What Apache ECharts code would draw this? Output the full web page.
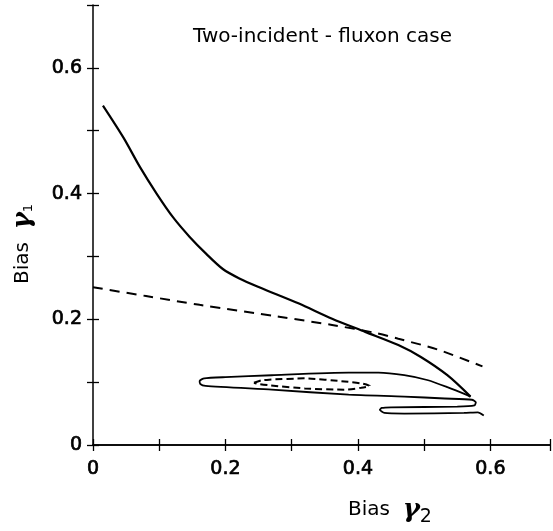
<!DOCTYPE html>
<html>
<head>
<meta charset="utf-8">
<script src="https://cdn.jsdelivr.net/npm/echarts@6/dist/echarts.min.js"></script>
<style>
html,body{margin:0;padding:0;background:#fff;}
#chart{width:553px;height:531px;}
</style>
</head>
<body>
<div id="chart"></div>
<script>
// bias gamma2 vs gamma1 curves
var mainCurve = [[0.015,0.540],[0.046,0.489],[0.071,0.442],[0.096,0.400],[0.121,0.362],[0.146,0.331],
  [0.171,0.304],[0.196,0.280],[0.221,0.265],[0.251,0.251],[0.311,0.225],[0.361,0.201],[0.411,0.180],
  [0.461,0.159],[0.495,0.140],[0.535,0.111],[0.570,0.077]];

var dashedLine = [[0,0.251],[0.08,0.237],[0.161,0.223],[0.281,0.204],[0.361,0.191],[0.428,0.178],
  [0.461,0.169],[0.52,0.152],[0.588,0.125]];

var solidLoop = [[0.570,0.077],[0.566,0.079],[0.535,0.092],[0.506,0.103],[0.47,0.111],[0.431,0.115],
  [0.386,0.115],[0.27,0.111],[0.2,0.108],[0.168,0.106],[0.161,0.102],[0.162,0.097],[0.17,0.094],
  [0.27,0.088],[0.386,0.080],[0.47,0.077],[0.531,0.074],[0.572,0.072],[0.578,0.068],[0.576,0.063],
  [0.55,0.061],[0.45,0.060],[0.436,0.059],[0.433,0.056],[0.44,0.051],[0.47,0.050],[0.56,0.051],
  [0.581,0.052],[0.59,0.047]];

var dashedLoop = [[0.243,0.099],[0.255,0.103],[0.266,0.104],[0.32,0.106],[0.38,0.101],[0.405,0.098],
  [0.418,0.094],[0.405,0.091],[0.38,0.088],[0.32,0.090],[0.266,0.095],[0.25,0.097],[0.243,0.099]];

var tickLabels = ['0', '0.2', '0.4', '0.6'];

var myChart = echarts.init(document.getElementById('chart'));

function lbl(v){
  var s = (Math.round(v * 10) / 10).toString();
  if (Math.abs(v * 10 - Math.round(v * 10)) > 1e-6) return '';
  return tickLabels.indexOf(s) >= 0 ? s : '';
}

function axis(max, extra){
  return Object.assign({
    type: 'value', min: 0, max: max, interval: 0.1,
    splitLine: {show: false},
    axisLine: {lineStyle: {color: '#000', width: 1.5}},
    axisTick: {inside: true, length: 6, lineStyle: {color: '#000', width: 1.3}}
  }, extra);
}

var font = 'DejaVu Sans';
var tickFont = {formatter: lbl, color: '#000', fontSize: 19, fontFamily: font,
  textBorderColor: '#000', textBorderWidth: 0.7};

option = {
  backgroundColor: '#fff',
  animation: false,
  grid: {left: 93, top: 5, right: 0, height: 440},
  xAxis: [
    axis(0.69, {position: 'bottom', axisLabel: Object.assign({margin: 15}, tickFont)}),
    axis(0.69, {position: 'top', axisLabel: {show: false}})
  ],
  yAxis: [
    axis(0.7, {position: 'left', axisLabel: Object.assign({margin: 11}, tickFont)}),
    axis(0.7, {position: 'right', axisLine: {show: false}, axisLabel: {show: false}})
  ],
  graphic: [
    {type: 'text', left: 193, top: 27,
     style: {text: 'Two-incident - fluxon case', fill: '#000', font: '20px "DejaVu Sans"'}},
    {type: 'text', left: 348, top: 497,
     style: {
       text: 'Bias  {g|γ}{s|2}', fill: '#000', font: '20px "DejaVu Sans"',
       rich: {
         g: {fontSize: 26, fontStyle: 'italic', fontWeight: 'bold', fontFamily: 'DejaVu Serif'},
         s: {fontSize: 19, padding: [14, 0, 0, 0], fontFamily: font}
       }
     }},
    {type: 'text', x: 10, y: 284, rotation: Math.PI / 2,
     style: {
       text: 'Bias  {g|γ}{s|1}', fill: '#000', font: '20px "DejaVu Sans"',
       rich: {
         g: {fontSize: 26, fontStyle: 'italic', fontWeight: 'bold', fontFamily: 'DejaVu Serif'},
         s: {fontSize: 13, padding: [12, 0, 0, 0], fontFamily: font}
       }
     }}
  ],
  series: [
    {type: 'line', data: mainCurve, showSymbol: false, smooth: 0.3,
     lineStyle: {color: '#000', width: 2.2}},
    {type: 'line', data: dashedLine, showSymbol: false, smooth: 0.3,
     lineStyle: {color: '#000', width: 2, type: [10, 7]}},
    {type: 'line', data: solidLoop, showSymbol: false, smooth: 0.2,
     lineStyle: {color: '#000', width: 1.8}},
    {type: 'line', data: dashedLoop, showSymbol: false, smooth: 0.2,
     lineStyle: {color: '#000', width: 2, type: [7, 4]}}
  ]
};
myChart.setOption(option);
window.addEventListener('resize', function(){ myChart.resize(); });
</script>
</body>
</html>
